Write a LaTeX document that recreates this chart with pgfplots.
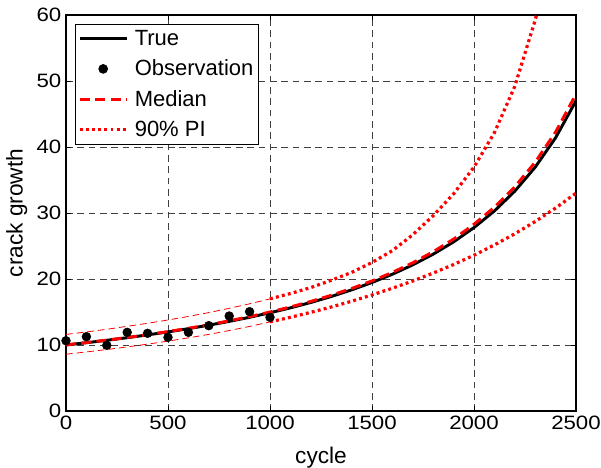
\documentclass[border=0pt]{standalone}
\usepackage{fontspec}
\setmainfont{Liberation Sans}
\newfontfamily\tickfont{Liberation Sans}[FakeStretch=1.15]
\usepackage{pgfplots}
\pgfplotsset{compat=1.18}
\pgfplotsset{
    linelegend/.style={legend image code/.code={\draw[##1] (5pt,0pt) -- (40pt,0pt); \path (43pt,0pt);}},
    dotlegend/.style={legend image code/.code={\draw[mark repeat=2,mark phase=2,##1] plot coordinates {(5pt,0pt) (22.5pt,0pt) (40pt,0pt)}; \path (43pt,0pt);}},
}

\begin{document}
\begin{tikzpicture}[font=\fontsize{16.5}{19.8}\selectfont]
\useasboundingbox (-49.5pt,-42.75pt) rectangle (401.25pt,308.25pt);
\begin{axis}[
    at={(0,0)}, anchor=south west,
    scale only axis,
    width=382.5pt, height=297pt,
    xmin=0, xmax=2500, ymin=0, ymax=60,
    xtick={0,500,...,2500}, ytick={0,10,...,60},
    /pgf/number format/assume math mode=true,
    scaled x ticks=false,
    ticklabel style={font=\tickfont\fontsize{14.5}{17}\selectfont},
    xticklabel style={/pgf/number format/1000 sep={}},
    tick align=inside,
    major tick length=4pt,
    tick style={black, line width=0.5pt},
    axis line style={line width=0.8pt},
    xmajorgrids, ymajorgrids,
    grid style={black!75, line width=0.5pt, dash pattern=on 5pt off 3.5pt},
    xlabel={cycle}, ylabel={crack growth},
    label style={font=\fontsize{17}{20}\selectfont},
    xlabel style={yshift=-6.5pt},
    legend cell align=left,
    legend style={at={(0.018,0.978)}, anchor=north west, draw=black,
        line width=0.6pt, row sep=4.5pt, inner sep=2pt,
        nodes={inner xsep=2pt, inner ysep=2.5pt}},
    linelegend,
]
% true crack size
\addplot[black, line width=2.2pt] coordinates {
(0,10.00) (100,10.345) (200,10.713) (300,11.107) (400,11.530) (500,11.984)
(600,12.474) (700,13.003) (800,13.576) (900,14.199) (1000,14.88)
(1100,15.624) (1200,16.442) (1300,17.346) (1400,18.349) (1500,19.47)
(1600,20.727) (1700,22.146) (1800,23.764) (1900,25.623) (2000,27.79)
(2100,30.305) (2200,33.31) (2300,36.94) (2400,41.40) (2500,47.0)
};
\addlegendentry{True}
% measurements
\addplot[only marks, mark=*, mark size=3.3pt, black, dotlegend] coordinates {
(0,10.65) (100,11.26) (200,9.95) (300,11.92) (400,11.77) (500,11.16)
(600,11.92) (700,12.93) (800,14.39) (900,15.05) (1000,14.19)
};
\addlegendentry{Observation}
% median prediction
\addplot[red, line width=2.2pt, dash pattern=on 7.5pt off 4pt] coordinates {
(0,10.02) (100,10.37) (200,10.74) (300,11.14) (400,11.57) (500,12.03)
(600,12.53) (700,13.07) (800,13.66) (900,14.30) (1000,15.00)
(1100,15.76) (1200,16.60) (1300,17.53) (1400,18.56) (1500,19.71)
(1600,21.00) (1700,22.46) (1800,24.13) (1900,26.05) (2000,28.29)
(2100,30.88) (2200,33.97) (2300,37.70) (2400,42.27) (2500,48.0)
};
\addlegendentry{Median}
% 90% prediction interval, upper
\addplot[red, line width=2.4pt, dash pattern=on 2.2pt off 2.4pt] coordinates {
(1000,17.0) (1100,17.8) (1200,18.7) (1300,19.8) (1400,21.0) (1500,22.5)
(1600,24.3) (1700,26.7) (1800,29.6) (1900,32.9) (2000,36.96)
(2100,42.17) (2200,49.19) (2300,59.23) (2320,61.79) (2350,66.1)
};
\addlegendentry{90\% PI}
% 90% prediction interval, lower
\addplot[red, line width=2.4pt, dash pattern=on 2.2pt off 2.4pt, forget plot] coordinates {
(1000,13.5) (1100,14.20) (1200,14.95) (1300,15.76) (1400,16.63) (1500,17.58)
(1600,18.60) (1700,19.70) (1800,20.90) (1900,22.19) (2000,23.6)
(2100,25.16) (2200,26.85) (2300,28.71) (2400,30.75) (2500,33.0)
};
% interval over the observation period
\addplot[red, line width=0.6pt, dash pattern=on 5pt off 3pt, forget plot] coordinates {
(0,11.60) (100,11.98) (200,12.38) (300,12.83) (400,13.29) (500,13.79)
(600,14.33) (700,14.91) (800,15.56) (900,16.24) (1000,16.99)
};
\addplot[red, line width=0.6pt, dash pattern=on 5pt off 3pt, forget plot] coordinates {
(0,8.60) (100,8.95) (200,9.31) (300,9.71) (400,10.13) (500,10.59)
(600,11.08) (700,11.61) (800,12.19) (900,12.81) (1000,13.50)
};
\end{axis}
\end{tikzpicture}
\end{document}
